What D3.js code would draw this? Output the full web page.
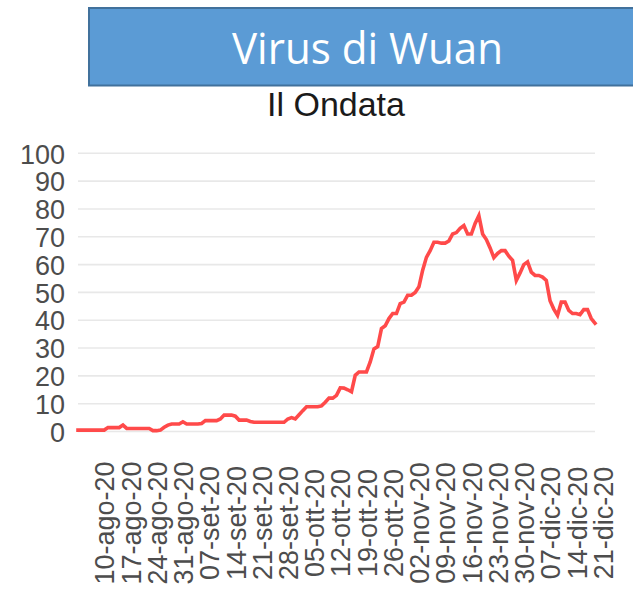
<!DOCTYPE html>
<html>
<head>
<meta charset="utf-8">
<script src="https://cdn.jsdelivr.net/npm/d3@7"></script>
<style>
  html, body { margin: 0; padding: 0; background: #ffffff; }
  svg { display: block; }
</style>
</head>
<body>
<div id="chart"></div>
<script>
const WIDTH = 633;
const HEIGHT = 603;

const BANNER_TITLE = "Virus di Wuan";
const CHART_TITLE = "Il Ondata";

// first day of the series, then one value per day
const START_DATE = "2020-08-03";
const values = [
  0.5, 0.5, 0.5, 0.5, 0.5, 0.5, 0.5, 0.5, 1.4, 1.4,
  1.4, 1.4, 2.3, 1.1, 1.1, 1.1, 1.1, 1.1, 1.1, 1.1,
  0.3, 0.3, 0.5, 1.5, 2.3, 2.7, 2.7, 2.7, 3.5, 2.7,
  2.7, 2.7, 2.7, 2.9, 3.9, 3.9, 3.9, 3.9, 4.5, 5.9,
  5.9, 5.9, 5.5, 4.1, 4.1, 4.1, 3.6, 3.3, 3.3, 3.3,
  3.3, 3.3, 3.3, 3.3, 3.3, 3.3, 4.5, 5.0, 4.5, 6.0,
  7.5, 8.9, 8.9, 8.9, 8.9, 9.2, 10.5, 12, 12, 13,
  15.7, 15.6, 15, 14.3, 20.2, 21.4, 21.4, 21.4, 25, 29.7,
  30.5, 37, 38, 40.6, 42.4, 42.4, 46, 46.5, 49, 49,
  50, 52, 58, 62.6, 65, 68, 68, 67.7, 67.7, 68.5,
  71, 71.5, 73, 74, 71, 71, 74.8, 77.6, 71, 69,
  66, 62.5, 64, 65, 65, 63, 61.5, 54.3, 57, 60,
  61, 57.3, 56.1, 56.1, 55.5, 54.3, 47, 44, 41.8, 46.5,
  46.5, 43.5, 42.4, 42.4, 42, 43.8, 43.8, 40.6, 38.9
];

const yTicks = [0, 10, 20, 30, 40, 50, 60, 70, 80, 90, 100];
const xTickDates = [
  "2020-08-10", "2020-08-17", "2020-08-24", "2020-08-31",
  "2020-09-07", "2020-09-14", "2020-09-21", "2020-09-28",
  "2020-10-05", "2020-10-12", "2020-10-19", "2020-10-26",
  "2020-11-02", "2020-11-09", "2020-11-16", "2020-11-23",
  "2020-11-30", "2020-12-07", "2020-12-14", "2020-12-21"
];

const itLocale = d3.timeFormatLocale({
  dateTime: "%A %e %B %Y, %X",
  date: "%d/%m/%Y",
  time: "%H:%M:%S",
  periods: ["AM", "PM"],
  days: ["domenica", "lunedì", "martedì", "mercoledì", "giovedì", "venerdì", "sabato"],
  shortDays: ["dom", "lun", "mar", "mer", "gio", "ven", "sab"],
  months: ["gennaio", "febbraio", "marzo", "aprile", "maggio", "giugno", "luglio",
    "agosto", "settembre", "ottobre", "novembre", "dicembre"],
  shortMonths: ["gen", "feb", "mar", "apr", "mag", "giu", "lug", "ago", "set", "ott", "nov", "dic"]
});
const formatTick = itLocale.format("%d-%b-%y");
const parseDate = d3.utcParse("%Y-%m-%d");

const startDate = parseDate(START_DATE);
const series = values.map((value, index) => ({
  date: d3.utcDay.offset(startDate, index),
  value,
}));

const panel = { left: 78, right: 595, top: 153.3, bottom: 431.5 };

const x = d3.scaleUtc()
  .domain(d3.extent(series, (d) => d.date))
  .range([panel.left, panel.right]);

const y = d3.scaleLinear()
  .domain([0, 100])
  .range([panel.bottom, panel.top]);

const svg = d3.select("#chart")
  .append("svg")
  .attr("width", WIDTH)
  .attr("height", HEIGHT)
  .attr("viewBox", `0 0 ${WIDTH} ${HEIGHT}`);

// banner
svg.append("rect")
  .attr("x", 89)
  .attr("y", 8)
  .attr("width", 600)
  .attr("height", 77.5)
  .attr("fill", "#5B9BD5")
  .attr("stroke", "#41719C")
  .attr("stroke-width", 2);

const banner = svg.append("text")
  .attr("x", 367.5)
  .attr("y", 64)
  .attr("text-anchor", "middle")
  .attr("fill", "#ffffff")
  .attr("font-family", "'Open Sans', sans-serif")
  .attr("font-size", 43)
  .text(BANNER_TITLE);
const bannerLength = banner.node().getComputedTextLength();
if (bannerLength > 0) {
  banner.attr("textLength", 271).attr("lengthAdjust", "spacingAndGlyphs");
}

svg.append("text")
  .attr("x", 336)
  .attr("y", 115.5)
  .attr("text-anchor", "middle")
  .attr("fill", "#1a1a1a")
  .attr("font-family", "'Liberation Sans', Arial, sans-serif")
  .attr("font-size", 34)
  .text(CHART_TITLE);

// horizontal grid
svg.append("g")
  .selectAll("line")
  .data(yTicks)
  .join("line")
  .attr("x1", panel.left)
  .attr("x2", panel.right)
  .attr("y1", (d) => y(d))
  .attr("y2", (d) => y(d))
  .attr("stroke", "#E8E8E8")
  .attr("stroke-width", 1.6);

// y labels
const yAxis = svg.append("g")
  .attr("transform", `translate(${panel.left - 13},0)`)
  .call(d3.axisLeft(y).tickValues(yTicks).tickSize(0).tickPadding(0));
yAxis.select(".domain").remove();
yAxis.selectAll("text")
  .attr("fill", "#4D4D4D")
  .attr("font-family", "'Liberation Sans', Arial, sans-serif")
  .attr("font-size", 27)
  .attr("dy", "0.36em");

// x labels, rotated, centered under each tick
const xAxis = svg.append("g")
  .attr("transform", "translate(0,523)")
  .call(d3.axisBottom(x)
    .tickValues(xTickDates.map(parseDate))
    .tickFormat(formatTick)
    .tickSize(0)
    .tickPadding(0));
xAxis.select(".domain").remove();
xAxis.selectAll("text")
  .attr("transform", "rotate(-90)")
  .attr("x", 0)
  .attr("y", 0)
  .attr("dy", "0.36em")
  .attr("text-anchor", "middle")
  .attr("fill", "#4D4D4D")
  .attr("font-family", "'Liberation Sans', Arial, sans-serif")
  .attr("font-size", 27);

// series
const line = d3.line()
  .x((d) => x(d.date))
  .y((d) => y(d.value));

svg.append("path")
  .datum(series)
  .attr("d", line)
  .attr("fill", "none")
  .attr("stroke", "#FF4A4A")
  .attr("stroke-width", 3.6)
  .attr("stroke-linejoin", "miter")
  .attr("stroke-linecap", "square");
</script>
</body>
</html>
